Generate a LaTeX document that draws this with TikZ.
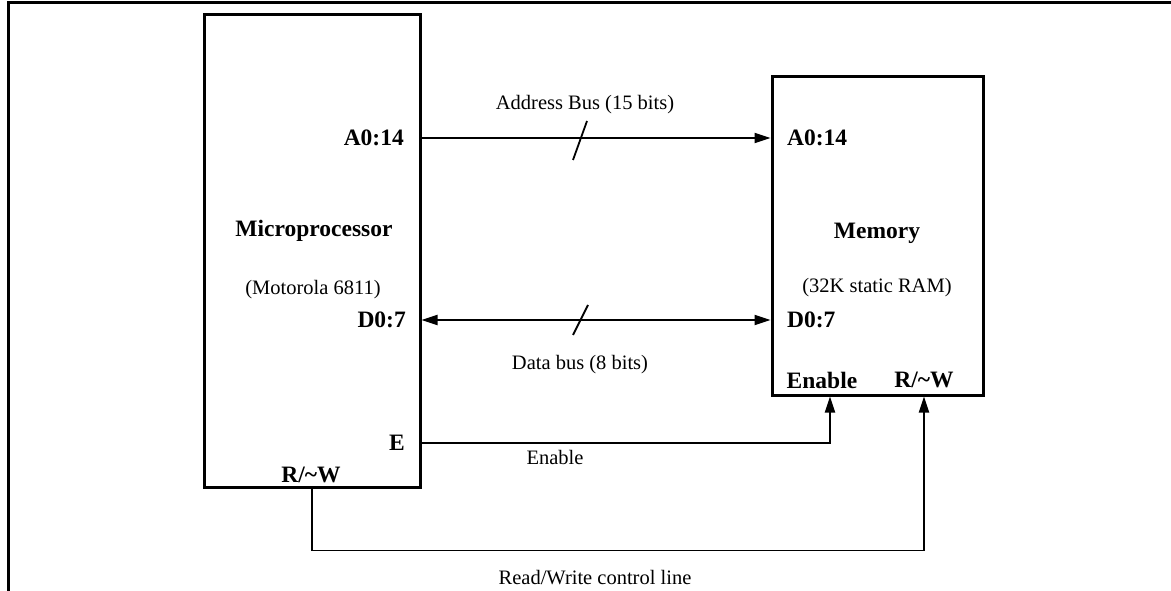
\documentclass[tikz,border=0pt]{standalone}
\usepackage{fontspec}
\setmainfont{Liberation Serif}
\usetikzlibrary{arrows.meta,calc,positioning}

\tikzset{
  chip/.style={draw,line width=3pt,inner sep=0pt},
  pinlab/.style={font=\fontsize{23.5}{28}\selectfont\bfseries,inner sep=0pt},
  note/.style={font=\fontsize{20.5}{24}\selectfont,inner sep=0pt},
  wire/.style={line width=1.8pt},
  sig/.style={wire,-{Triangle[length=16pt,width=10pt]}},
  bisig/.style={wire,{Triangle[length=16pt,width=10pt]}-{Triangle[length=16pt,width=10pt]}},
}

\begin{document}
\begin{tikzpicture}[x=1pt,y=-1pt]
  \useasboundingbox (0,0) rectangle (1171,591);
  % outer frame
  \draw[line width=3pt] (1175,2.5) -- (8,2.5) -- (8,595);
  % the two chips
  \node[chip,minimum width=216pt,minimum height=472pt] (mpu) at (312,251) {};
  \node[chip,minimum width=211pt,minimum height=318pt] (mem) at (877.5,236) {};
  % microprocessor
  \node[pinlab,anchor=east] (mpuA) at (404,138) {A0:14};
  \node[pinlab] (mpuname) at (314,231) {Microprocessor};
  \node[note] (mpusub) at (313,290) {(Motorola 6811)};
  \node[pinlab,anchor=east] (mpuD) at (406,320) {D0:7};
  \node[pinlab] (mpuE) at (397,443) {E};
  \node[pinlab] (mpuRW) at (311,475) {R/\textasciitilde W};
  % memory
  \node[pinlab,anchor=west] (memA) at (787,138) {A0:14};
  \node[pinlab] (memname) at (877,233) {Memory};
  \node[note] (memsub) at (877,288) {(32K static RAM)};
  \node[pinlab,anchor=west] (memD) at (787,320) {D0:7};
  \node[pinlab] (memEn) at (822,380) {Enable};
  \node[pinlab] (memRW) at (924,380) {R/\textasciitilde W};
  \coordinate (enIn) at ([xshift=-47.5pt]mem.south);
  \coordinate (rwIn) at ([xshift=46.5pt]mem.south);
  % buses
  \draw[sig] (mpu.east |- mpuA) -- (mem.west |- mpuA);
  \draw[wire] (587,121) -- (573,160);
  \node[note] (abus) at (585,105) {Address Bus (15 bits)};
  \draw[bisig] (mpu.east |- mpuD) -- (mem.west |- mpuD);
  \draw[wire] (588,305) -- (573,335);
  \node[note] (dbus) at (580,365) {Data bus (8 bits)};
  % control lines
  \draw[sig] (mpu.east |- mpuE) -| (enIn);
  \node[note] (enlab) at (555,457) {Enable};
  \draw[sig] (mpu.south) -- ++(0,62) -| (rwIn);
  \node[note] (rwlab) at (595,578) {Read/Write control line};
\end{tikzpicture}
\end{document}
